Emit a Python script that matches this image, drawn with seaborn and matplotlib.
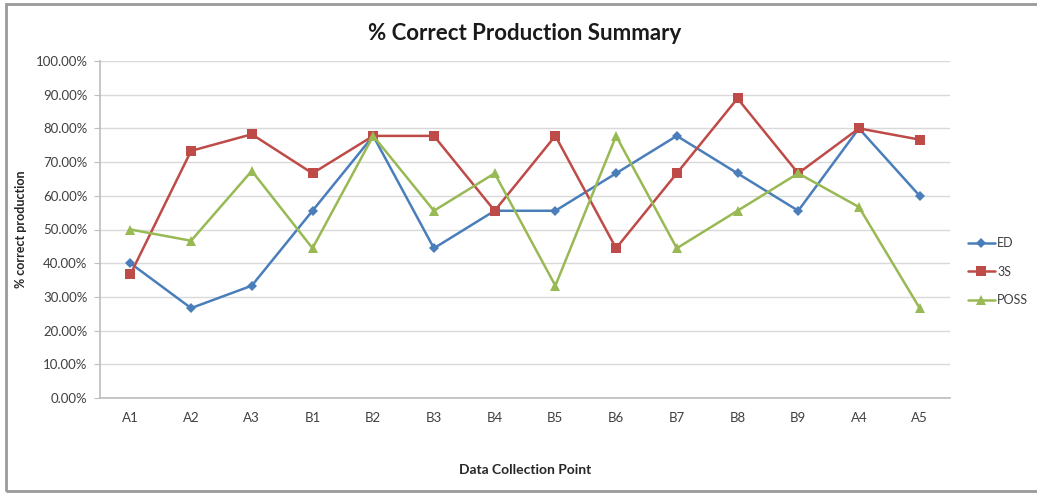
import matplotlib
matplotlib.use("Agg")
import matplotlib.pyplot as plt
from matplotlib.patches import Rectangle
from matplotlib.ticker import PercentFormatter, FixedLocator
import seaborn as sns
import pandas as pd
import numpy as np

# Data collection points and % correct production per structure
points = ["A1", "A2", "A3", "B1", "B2", "B3", "B4", "B5", "B6", "B7", "B8", "B9", "A4", "A5"]
ed = [40.00, 26.67, 33.33, 55.56, 77.78, 44.44, 55.56, 55.56, 66.67, 77.78, 66.67, 55.56, 80.00, 60.00]
three_s = [36.67, 73.33, 78.26, 66.67, 77.78, 77.78, 55.56, 77.78, 44.44, 66.67, 88.89, 66.67, 80.00, 76.67]
poss = [50.00, 46.67, 67.39, 44.44, 77.78, 55.56, 66.67, 33.33, 77.78, 44.44, 55.56, 66.67, 56.67, 26.67]
series_names = ["ED", "3S", "POSS"]

df = pd.DataFrame({"point": points, "ED": ed, "3S": three_s, "POSS": poss})
long = df.melt(id_vars="point", value_vars=series_names, var_name="series", value_name="pct")
long["x"] = long["point"].map({p: i for i, p in enumerate(points)})

sns.set_theme(style="white")
plt.rcParams["font.family"] = ["Lato", "DejaVu Sans"]

palette = {"ED": "#4A7EBB", "3S": "#BE4B48", "POSS": "#98B954"}
markers = {"ED": "D", "3S": "s", "POSS": "^"}
sizes = {"ED": 5, "3S": 7, "POSS": 6.5}

fig = plt.figure(figsize=(10.37, 4.93), dpi=100)
fig.patch.set_facecolor("white")
# chart frame
fig.add_artist(Rectangle((6 / 1037, 2 / 493), 1.1, 487 / 493, transform=fig.transFigure,
                         fill=False, edgecolor="#9a9a9a", linewidth=2.0))

ax = fig.add_axes([100 / 1037, 1 - 398 / 493, 850 / 1037, 337 / 493])

for name in series_names:
    sub = long[long["series"] == name]
    sns.lineplot(data=sub, x="x", y="pct", ax=ax, color=palette[name], marker=markers[name],
                 markersize=sizes[name], markeredgewidth=0, linewidth=1.8, label=name,
                 sort=False)

ax.set_xlim(-0.5, len(points) - 0.5)
ax.set_ylim(0, 100)
ax.set_yticks(np.arange(0, 101, 10))
ax.yaxis.set_major_formatter(PercentFormatter(100, decimals=2))
ax.set_xticks(range(len(points)))
ax.set_xticklabels(points)
ax.xaxis.set_minor_locator(FixedLocator(np.arange(-0.5, len(points), 1.0)))
ax.tick_params(axis="x", which="major", length=0, pad=10, labelsize=9.5, labelcolor="#404040")
ax.tick_params(axis="x", which="minor", length=4, color="#bfbfbf", width=0.8, direction="out")
ax.tick_params(axis="y", length=4, color="#bfbfbf", width=0.8, labelsize=9.5,
               labelcolor="#404040", pad=5, direction="out", left=True)
ax.grid(axis="y", color="#d9d9d9", linewidth=1)
ax.set_axisbelow(True)
for side in ["top", "right"]:
    ax.spines[side].set_visible(False)
ax.spines["left"].set_color("#bfbfbf")
ax.spines["bottom"].set_color("#bfbfbf")

ax.set_xlabel("Data Collection Point", fontsize=10, fontweight="bold", labelpad=29)
ax.set_ylabel("% correct production", fontsize=9, fontweight="bold", labelpad=6)
fig.text(525 / 1037, 1 - 33 / 493, "% Correct Production Summary", ha="center", va="center",
         fontsize=16, fontweight="bold", color="#1a1a1a")

leg = ax.legend(loc="center left", bbox_to_anchor=(1.012, 0.375), frameon=False, fontsize=9,
                handlelength=2.2, labelspacing=1.3, handletextpad=0.15, borderaxespad=0.2)
for t in leg.get_texts():
    t.set_color("#404040")

fig.savefig("out.png", dpi=100)
